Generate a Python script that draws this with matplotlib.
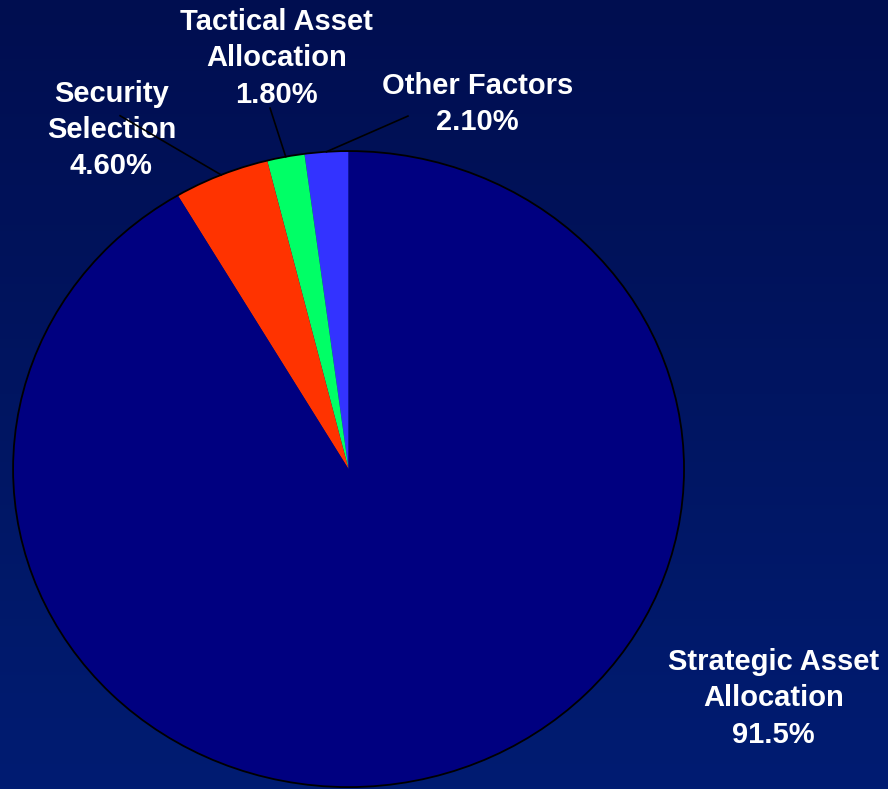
import numpy as np
import matplotlib as mpl
import matplotlib.pyplot as plt
from matplotlib.patches import Circle

mpl.rcParams['font.family'] = ['Liberation Sans', 'DejaVu Sans']

# slices in drawing order, counter-clockwise from 12 o'clock
names = ['Other Factors', 'Tactical Asset\nAllocation', 'Security\nSelection', 'Strategic Asset\nAllocation']
values = [2.10, 1.80, 4.60, 91.5]
value_labels = ['2.10%', '1.80%', '4.60%', '91.5%']
colors = ['#3333FF', '#00FF66', '#FF3300', '#000080']

# label centres and leader start points, in pie units (radius = 1)
label_xy = [(0.385, 1.148), (-0.215, 1.292), (-0.707, 1.066), (1.267, -0.721)]
leader_from = [(0.177, 1.110), (-0.234, 1.135), (-0.681, 1.111), None]

fig = plt.figure(figsize=(8.88, 7.89), dpi=100)

# background gradient, dark navy at the top getting a bit lighter downwards
bg = fig.add_axes([0, 0, 1, 1])
top = np.array([0, 14, 80]) / 255.0
bot = np.array([0, 28, 114]) / 255.0
t = np.linspace(0, 1, 256)[:, None]
grad = top + (bot - top) * t
bg.imshow(grad[:, None, :].repeat(2, axis=1), aspect='auto', extent=[0, 1, 0, 1])
bg.set_axis_off()

ax = fig.add_axes([0, 0, 1, 1])
ax.patch.set_alpha(0)
wedges, _ = ax.pie(values, colors=colors, startangle=90, counterclock=True,
                   radius=1, center=(0, 0), wedgeprops=dict(linewidth=0))
ax.add_patch(Circle((0, 0), 1, fill=False, ec='black', lw=1.3, zorder=3))

# pie is a bit wider than tall on the slide
ax.set_aspect('auto')
ax.set_xlim(-1.039, 1.608)
ax.set_ylim(-1.006, 1.475)
ax.set_axis_off()

for i, w in enumerate(wedges):
    x, y = label_xy[i]
    ax.text(x, y, names[i] + '\n' + value_labels[i], ha='center', va='center',
            color='white', fontsize=21, fontweight='bold', linespacing=1.38, zorder=4)
    if leader_from[i] is not None:
        mid = np.deg2rad((w.theta1 + w.theta2) / 2.0)
        ax.plot([leader_from[i][0], np.cos(mid)], [leader_from[i][1], np.sin(mid)],
                color='black', lw=1.2, zorder=5)

fig.savefig('out.png', dpi=100)
